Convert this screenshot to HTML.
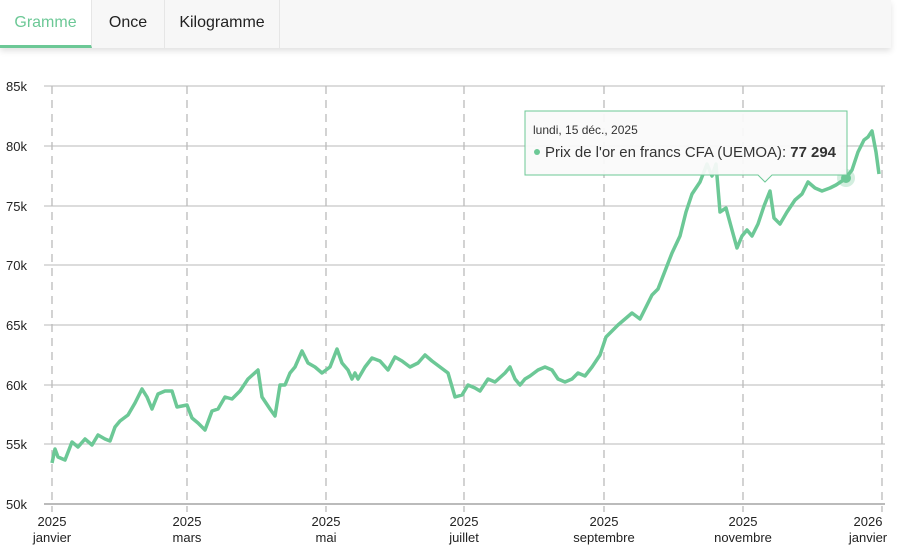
<!DOCTYPE html>
<html><head><meta charset="utf-8"><style>
body{margin:0;width:908px;height:554px;background:#fff;font-family:"Liberation Sans",sans-serif;overflow:hidden;position:relative}
.tabs{position:absolute;left:0;top:0;width:891px;height:48px;background:#f7f7f7;box-shadow:0 3px 6px rgba(0,0,0,0.12);display:flex}
.tab{height:48px;line-height:46px;font-size:16px;color:#222;text-align:center;border-right:1px solid #e6e6e6;box-sizing:border-box}
.tab.a{background:#fff;color:#6cc896;border-bottom:3px solid #6cc896}
</style></head><body>
<div class="tabs">
<div class="tab a" style="width:92px">Gramme</div>
<div class="tab" style="width:73px">Once</div>
<div class="tab" style="width:115px">Kilogramme</div>
</div>
<svg width="908" height="554" style="position:absolute;left:0;top:0">
<g stroke="#c8c8c8" stroke-width="1.3">
<line x1="44" x2="885" y1="86" y2="86"/><line x1="44" x2="885" y1="146" y2="146"/><line x1="44" x2="885" y1="206" y2="206"/><line x1="44" x2="885" y1="265" y2="265"/><line x1="44" x2="885" y1="325" y2="325"/><line x1="44" x2="885" y1="385" y2="385"/><line x1="44" x2="885" y1="444" y2="444"/><line x1="44" x2="885" y1="504" y2="504" stroke="#bbb" stroke-width="2"/>
</g>
<g stroke="#bbb" stroke-width="1.3" stroke-dasharray="8,6">
<line x1="52" x2="52" y1="86" y2="512"/><line x1="187" x2="187" y1="86" y2="512"/><line x1="326" x2="326" y1="86" y2="512"/><line x1="464" x2="464" y1="86" y2="512"/><line x1="604" x2="604" y1="86" y2="512"/><line x1="743" x2="743" y1="86" y2="512"/><line x1="882" x2="882" y1="86" y2="512"/>
</g>
<g font-size="13" fill="#222" text-anchor="end">
<text x="27" y="91">85k</text><text x="27" y="151">80k</text><text x="27" y="211">75k</text><text x="27" y="270">70k</text><text x="27" y="330">65k</text><text x="27" y="390">60k</text><text x="27" y="449">55k</text><text x="27" y="509">50k</text>
</g>
<g font-size="13" fill="#222" text-anchor="middle">
<text x="52" y="526">2025</text><text x="52" y="542">janvier</text>
<text x="187" y="526">2025</text><text x="187" y="542">mars</text>
<text x="326" y="526">2025</text><text x="326" y="542">mai</text>
<text x="464" y="526">2025</text><text x="464" y="542">juillet</text>
<text x="604" y="526">2025</text><text x="604" y="542">septembre</text>
<text x="743" y="526">2025</text><text x="743" y="542">novembre</text>
<text x="868" y="526">2026</text><text x="868" y="542">janvier</text>
</g>
<polyline fill="none" stroke="#6cc896" stroke-width="3.5" stroke-linejoin="round" points="52,463 55,449 58,457 65,460 72,442 78,447 85,439 92,445 98,435 105,439 110,441 115,427 120,421 128,415 135,403 142,389 147,397 152,409 158,394 165,391 172,391 177,407 187,405 192,418 198,423 205,430 212,411 218,409 225,397 232,399 240,391 248,379 258,370 262,397 270,409 275,416 280,385 285,385 290,373 295,367 302,351 308,363 315,367 322,373 330,367 337,349 342,363 348,370 352,379 355,373 358,379 365,367 372,358 380,361 388,370 395,357 402,361 410,367 418,363 425,355 432,361 440,367 448,373 455,397 462,395 468,385 475,388 480,391 488,379 495,382 505,373 510,367 515,379 520,385 525,379 530,376 538,370 545,367 552,370 558,379 565,382 572,379 578,373 585,376 592,367 600,355 606,337 612,331 618,325 625,319 632,313 640,319 646,307 652,295 658,289 665,271 672,253 680,236 686,212 692,194 700,182 707,164 712,176 716,164 720,212 726,208 732,230 737,248 742,236 747,230 752,236 758,224 764,206 770,191 774,218 780,224 787,212 795,200 802,194 808,182 815,188 822,191 830,188 836,185 845,179 852,170 858,152 864,140 868,137 872,131 876,152 879,174"/>
<circle cx="846" cy="178" r="9" fill="#6cc896" opacity="0.3"/>
<circle cx="846" cy="178" r="5" fill="#6cc896"/>
<path d="M525,111 H847 V175 H772 L765,182 L758,175 H525 Z" fill="#fafafa" fill-opacity="0.92" stroke="#6cc896" stroke-width="1"/>
<text x="533" y="134" font-size="12" fill="#333">lundi, 15 déc., 2025</text>
<circle cx="537" cy="152" r="3" fill="#6cc896"/>
<text x="545" y="157" font-size="15" fill="#333" textLength="291" lengthAdjust="spacingAndGlyphs">Prix de l'or en francs CFA (UEMOA): <tspan font-weight="bold">77 294</tspan></text>
</svg>
</body></html>
